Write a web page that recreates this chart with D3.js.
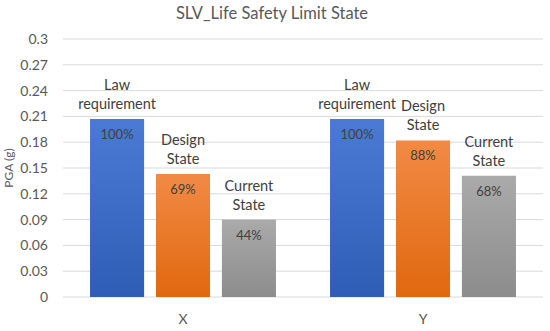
<!DOCTYPE html>
<html>
<head>
<meta charset="utf-8">
<script src="https://cdn.jsdelivr.net/npm/d3@7"></script>
<style>
  body { margin: 0; background: #fff; }
  text { font-family: Lato, "Open Sans", sans-serif; }
</style>
</head>
<body>
<svg id="chart" width="550" height="331"></svg>
<script>
// data
var groups = ["X", "Y"];
var seriesNames = [["Law", "requirement"], ["Design", "State"], ["Current", "State"]];
var valuesX = [0.207, 0.143, 0.09];
var valuesY = [0.207, 0.182, 0.141];
var pctX = ["100%", "69%", "44%"];
var pctY = ["100%", "88%", "68%"];
var yTicks = [0, 0.03, 0.06, 0.09, 0.12, 0.15, 0.18, 0.21, 0.24, 0.27, 0.3];

var rows = [
  { group: "X", values: valuesX, pct: pctX },
  { group: "Y", values: valuesY, pct: pctY }
];

var svg = d3.select("#chart"),
    margin = { top: 39, right: 7, bottom: 34, left: 63 },
    width = +svg.attr("width") - margin.left - margin.right,
    height = +svg.attr("height") - margin.top - margin.bottom;

var g = svg.append("g").attr("transform", "translate(" + margin.left + "," + margin.top + ")");

var x0 = d3.scaleBand().domain(groups).range([0, width]);
var x1 = d3.scaleBand().domain([0, 1, 2]).range([0, x0.bandwidth()])
    .paddingInner(0.18).paddingOuter(0.41);
var y = d3.scaleLinear().domain([0, 0.3]).range([height, 0]);

// gradients
var defs = svg.append("defs");
var grads = [["#4a7bd4", "#2f5db6"], ["#f28a45", "#e0680f"], ["#aaaaaa", "#8c8c8c"]];
grads.forEach(function(c, i) {
  var lg = defs.append("linearGradient").attr("id", "grad" + i)
    .attr("x1", 0).attr("y1", 0).attr("x2", 0).attr("y2", 1);
  lg.append("stop").attr("offset", "0%").attr("stop-color", c[0]);
  lg.append("stop").attr("offset", "100%").attr("stop-color", c[1]);
});

// gridlines
g.append("g").selectAll("line")
  .data(yTicks)
  .enter().append("line")
    .attr("x1", 0).attr("x2", width)
    .attr("y1", function(d) { return y(d); })
    .attr("y2", function(d) { return y(d); })
    .attr("stroke", "#d9d9d9")
    .attr("stroke-width", 1);

// y axis labels
var yAxis = g.append("g")
  .attr("transform", "translate(-12,0)")
  .call(d3.axisLeft(y).tickValues(yTicks).tickSize(0).tickFormat(function(d) { return d3.format("")(+d.toFixed(2)); }));
yAxis.select(".domain").remove();
yAxis.selectAll("text")
  .attr("fill", "#595959")
  .style("font-size", "14px")
  .style("font-family", "Lato, sans-serif");

// x axis labels
var xAxis = g.append("g")
  .attr("transform", "translate(0," + (height + 14) + ")")
  .call(d3.axisBottom(x0).tickSize(0));
xAxis.select(".domain").remove();
xAxis.selectAll("text")
  .attr("fill", "#595959")
  .style("font-size", "14px")
  .style("font-family", "Lato, sans-serif");

// bars
var grp = g.selectAll(".grp")
  .data(rows)
  .enter().append("g")
    .attr("class", "grp")
    .attr("transform", function(d) { return "translate(" + x0(d.group) + ",0)"; });

var bar = grp.selectAll(".bar")
  .data(function(d) {
    return d.values.map(function(v, i) { return { i: i, value: v, pct: d.pct[i] }; });
  })
  .enter().append("g")
    .attr("class", "bar");

bar.append("rect")
  .attr("x", function(d) { return x1(d.i); })
  .attr("y", function(d) { return y(d.value); })
  .attr("width", x1.bandwidth())
  .attr("height", function(d) { return height - y(d.value); })
  .attr("fill", function(d) { return "url(#grad" + d.i + ")"; });

// percent inside bar
bar.append("text")
  .attr("x", function(d) { return x1(d.i) + x1.bandwidth() / 2; })
  .attr("y", function(d) { return y(d.value) + 20; })
  .attr("text-anchor", "middle")
  .attr("fill", "#404040")
  .style("font-size", "13px")
  .text(function(d) { return d.pct; });

// series name above bar
bar.append("text")
  .attr("text-anchor", "middle")
  .attr("fill", "#404040")
  .style("font-size", "14.5px")
  .selectAll("tspan")
  .data(function(d) {
    return seriesNames[d.i].map(function(s, k) { return { s: s, k: k, p: d }; });
  })
  .enter().append("tspan")
    .attr("x", function(t) { return x1(t.p.i) + x1.bandwidth() / 2; })
    .attr("y", function(t) { return y(t.p.value) - 29 + t.k * 19; })
    .text(function(t) { return t.s; });

// title
svg.append("text")
  .attr("x", 272)
  .attr("y", 19)
  .attr("text-anchor", "middle")
  .attr("fill", "#595959")
  .style("font-size", "16.5px")
  .text("SLV_Life Safety Limit State");

// y axis title
svg.append("text")
  .attr("transform", "translate(13," + (margin.top + height / 2) + ") rotate(-90)")
  .attr("text-anchor", "middle")
  .attr("fill", "#595959")
  .style("font-size", "12px")
  .text("PGA (g)");
</script>
</body>
</html>
